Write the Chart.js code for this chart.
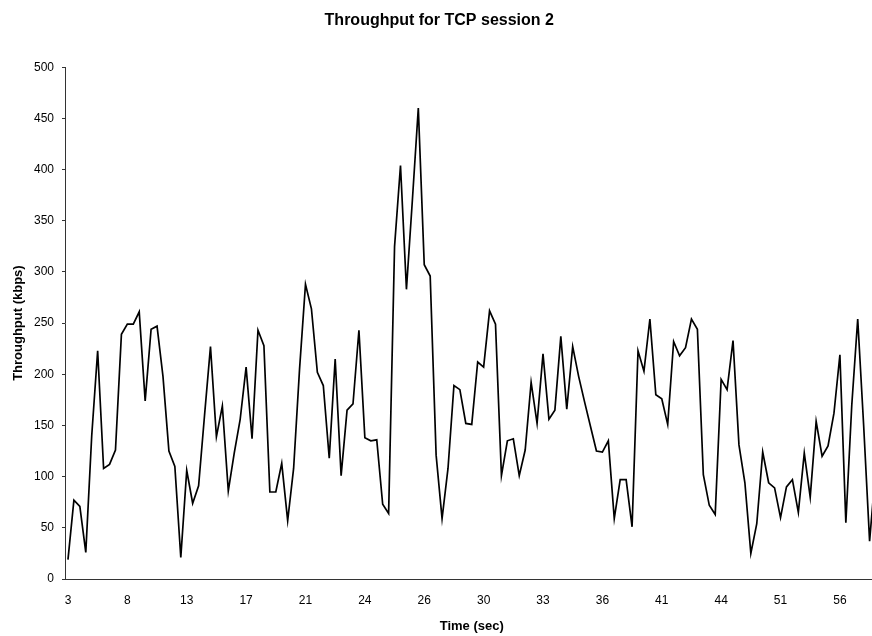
<!DOCTYPE html>
<html>
<head>
<meta charset="utf-8">
<script src="https://cdn.jsdelivr.net/npm/chart.js@4.4.1/dist/chart.umd.min.js"></script>
<style>
  html, body { margin: 0; padding: 0; background: #fff; overflow: hidden; width: 872px; height: 636px; }
  #wrap { position: absolute; left: 0; top: 0; width: 880px; height: 636px; }
</style>
</head>
<body>
<div id="wrap"><canvas id="c" width="880" height="636"></canvas></div>
<script>
// Tick labels shown every 10 samples (Time, sec)
const tickLabels = ["3", "8", "13", "17", "21", "24", "26", "30", "33", "36", "41", "44", "51", "56"];
const tickEvery = 10;

// Throughput (kbps) per sample
const throughput = [
  19, 77, 71, 26, 140, 223, 108, 112, 126, 239,
  249, 249, 261, 174, 244, 247, 198, 125, 110, 21,
  106, 74, 91, 160, 227, 139, 169, 86, 123, 156,
  207, 137, 243, 228, 85, 85, 113, 57, 108, 205,
  288, 264, 202, 189, 118, 215, 101, 165, 171, 243,
  138, 135, 136, 73, 64, 325, 404, 283, 370, 460,
  307, 296, 121, 59, 108, 189, 185, 152, 151, 212,
  207, 262, 249, 101, 135, 137, 101, 126, 192, 152,
  220, 156, 165, 237, 166, 227, 198, 173, 149, 125,
  124, 135, 59, 97, 97, 51, 223, 203, 254, 180,
  176, 151, 232, 218, 226, 254, 244, 102, 72, 63,
  195, 185, 233, 131, 94, 25, 54, 124, 94, 89,
  60, 90, 97, 65, 123, 80, 154, 120, 130, 162,
  219, 55, 170, 254, 150, 37, 106
];

const categories = throughput.map((_, i) => (i % tickEvery === 0 && tickLabels[i / tickEvery] !== undefined) ? tickLabels[i / tickEvery] : "");

const FONT = "'Liberation Sans', Arial, sans-serif";

new Chart(document.getElementById('c'), {
  type: 'line',
  data: {
    labels: categories,
    datasets: [{
      data: throughput,
      borderColor: '#000',
      borderWidth: 1.7,
      pointRadius: 0,
      tension: 0,
      fill: false
    }]
  },
  options: {
    responsive: false,
    devicePixelRatio: 1,
    animation: false,
    layout: { padding: { left: 0, right: 1.5, top: 0, bottom: 0 } },
    plugins: {
      legend: { display: false },
      tooltip: { enabled: false },
      title: {
        display: true,
        text: 'Throughput for TCP session 2',
        color: '#000',
        font: { family: FONT, size: 16, weight: 'bold' },
        padding: { top: 11, bottom: 37 }
      }
    },
    scales: {
      x: {
        type: 'category',
        offset: true,
        grid: { display: true, drawOnChartArea: false, drawTicks: false, offset: true, color: 'rgba(0,0,0,0)' },
        border: { display: true, color: '#333', width: 1 },
        ticks: {
          autoSkip: false,
          maxRotation: 0,
          padding: 14,
          color: '#000',
          font: { family: FONT, size: 12 },
          callback: function(value, index) {
            const l = this.getLabelForValue(value);
            return l === '' ? null : l;
          }
        },
        title: {
          display: true,
          text: 'Time (sec)',
          color: '#000',
          font: { family: FONT, size: 13, weight: 'bold' },
          padding: { top: 0, bottom: 2 }
        },
        afterFit: function(scale) { scale.height = 57; }
      },
      y: {
        min: 0,
        max: 500,
        ticks: {
          stepSize: 50,
          padding: 8,
          color: '#000',
          font: { family: FONT, size: 12 }
        },
        grid: { display: true, drawOnChartArea: false, drawTicks: true, tickLength: 3, color: '#333' },
        border: { display: true, color: '#333', width: 1 },
        title: {
          display: true,
          text: 'Throughput (kbps)',
          color: '#000',
          font: { family: FONT, size: 13, weight: 'bold' },
          padding: { top: 11, bottom: 0 }
        },
        afterFit: function(scale) { scale.width = 65; }
      }
    }
  }
});
</script>
</body>
</html>
